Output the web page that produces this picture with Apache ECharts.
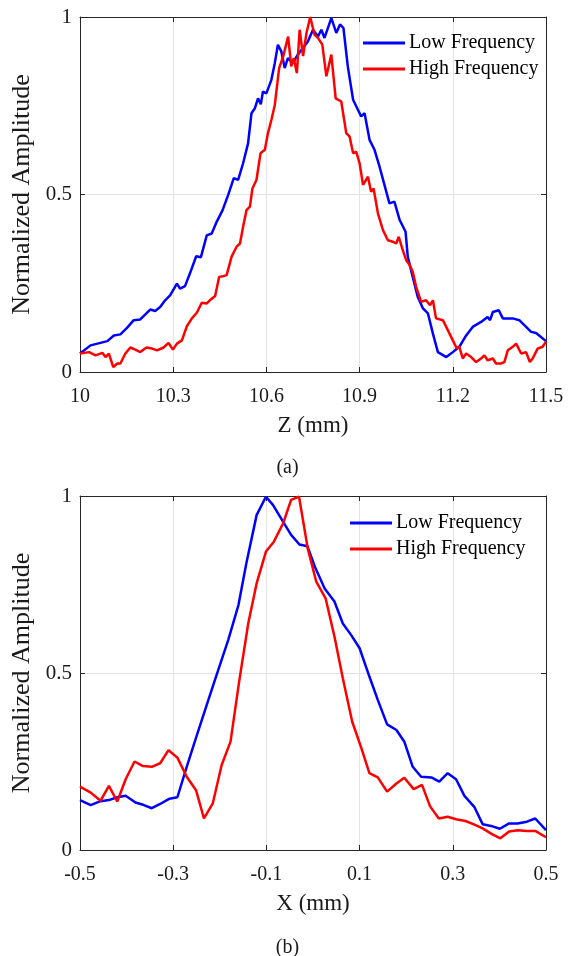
<!DOCTYPE html>
<html>
<head>
<meta charset="utf-8">
<script src="https://cdn.jsdelivr.net/npm/echarts@6/dist/echarts.min.js"></script>
<style>
html,body{margin:0;padding:0;background:#fff;}
#main{width:575px;height:956px;}
</style>
</head>
<body>
<div id="main"></div>
<script>
// ---- Chart (a): axial profile along Z (mm) ----
var zLow = [10.000,10.034,10.088,10.109,10.130,10.152,10.173,10.194,10.226,10.242,10.258,10.274,10.290,10.312,10.322,10.338,10.354,10.374,10.389,10.408,10.424,10.440,10.459,10.477,10.495,10.509,10.525,10.541,10.552,10.563,10.573,10.582,10.589,10.600,10.616,10.627,10.637,10.648,10.659,10.669,10.685,10.701,10.717,10.733,10.750,10.766,10.777,10.787,10.809,10.825,10.837,10.848,10.862,10.879,10.895,10.905,10.916,10.932,10.948,10.964,10.980,10.996,11.012,11.029,11.048,11.055,11.071,11.087,11.104,11.120,11.136,11.152,11.179,11.200,11.221,11.243,11.264,11.291,11.312,11.320,11.329,11.348,11.361,11.393,11.414,11.436,11.452,11.468,11.500];
var aLow = [0.052,0.075,0.087,0.103,0.106,0.125,0.146,0.148,0.176,0.172,0.183,0.202,0.216,0.249,0.235,0.242,0.278,0.326,0.323,0.385,0.390,0.423,0.456,0.499,0.546,0.541,0.588,0.644,0.729,0.743,0.771,0.754,0.790,0.785,0.823,0.870,0.922,0.903,0.856,0.884,0.870,0.894,0.912,0.930,0.964,0.945,0.964,0.941,0.997,0.955,0.979,0.969,0.861,0.767,0.738,0.720,0.729,0.654,0.626,0.579,0.527,0.475,0.480,0.428,0.395,0.325,0.268,0.212,0.179,0.165,0.108,0.056,0.042,0.056,0.071,0.103,0.127,0.141,0.155,0.146,0.169,0.174,0.151,0.151,0.146,0.127,0.113,0.110,0.087];
var zHigh = [10.000,10.029,10.050,10.072,10.082,10.093,10.107,10.120,10.130,10.146,10.162,10.178,10.194,10.214,10.232,10.248,10.269,10.285,10.299,10.312,10.328,10.344,10.360,10.376,10.392,10.408,10.418,10.435,10.448,10.461,10.472,10.488,10.504,10.515,10.525,10.536,10.547,10.555,10.568,10.581,10.595,10.605,10.616,10.627,10.641,10.654,10.670,10.680,10.688,10.698,10.707,10.718,10.729,10.741,10.755,10.766,10.780,10.793,10.809,10.823,10.841,10.857,10.868,10.879,10.889,10.900,10.911,10.927,10.937,10.945,10.959,10.975,10.991,11.007,11.018,11.026,11.039,11.050,11.061,11.071,11.082,11.098,11.114,11.127,11.136,11.146,11.168,11.184,11.200,11.213,11.221,11.232,11.243,11.259,11.275,11.291,11.302,11.312,11.329,11.339,11.355,11.366,11.377,11.393,11.404,11.420,11.436,11.448,11.457,11.473,11.489,11.500];
var aHigh = [0.052,0.056,0.047,0.054,0.042,0.052,0.014,0.024,0.024,0.052,0.069,0.063,0.056,0.069,0.066,0.061,0.069,0.082,0.063,0.080,0.089,0.129,0.151,0.167,0.195,0.193,0.202,0.214,0.268,0.270,0.273,0.325,0.353,0.362,0.409,0.456,0.466,0.517,0.541,0.616,0.626,0.673,0.710,0.752,0.856,0.889,0.945,0.861,0.884,0.842,0.964,0.890,0.955,1.000,0.950,0.941,0.922,0.833,0.894,0.771,0.762,0.673,0.663,0.616,0.621,0.588,0.527,0.550,0.508,0.517,0.447,0.400,0.371,0.367,0.362,0.381,0.343,0.315,0.301,0.282,0.240,0.198,0.202,0.188,0.202,0.151,0.146,0.118,0.089,0.066,0.071,0.038,0.052,0.042,0.028,0.038,0.047,0.033,0.038,0.024,0.024,0.028,0.061,0.071,0.080,0.052,0.056,0.028,0.038,0.066,0.071,0.085];

// ---- Chart (b): lateral profile along X (mm) ----
var xLow = [-0.500,-0.477,-0.456,-0.438,-0.420,-0.402,-0.381,-0.363,-0.346,-0.328,-0.308,-0.291,-0.271,-0.249,-0.228,-0.207,-0.182,-0.160,-0.143,-0.121,-0.101,-0.086,-0.064,-0.047,-0.029,-0.012,0.004,0.025,0.046,0.064,0.082,0.100,0.121,0.139,0.159,0.179,0.196,0.214,0.232,0.254,0.271,0.289,0.307,0.325,0.346,0.364,0.382,0.401,0.421,0.439,0.459,0.477,0.500];
var bLow = [0.141,0.127,0.138,0.141,0.149,0.153,0.134,0.127,0.118,0.130,0.145,0.149,0.235,0.325,0.410,0.494,0.593,0.692,0.810,0.946,0.998,0.975,0.927,0.890,0.863,0.858,0.800,0.739,0.702,0.640,0.607,0.570,0.490,0.424,0.355,0.339,0.306,0.235,0.207,0.205,0.193,0.217,0.200,0.153,0.122,0.073,0.068,0.060,0.075,0.075,0.080,0.089,0.056];
var xHigh = [-0.500,-0.477,-0.456,-0.438,-0.420,-0.402,-0.383,-0.365,-0.346,-0.328,-0.310,-0.291,-0.271,-0.251,-0.234,-0.215,-0.196,-0.177,-0.158,-0.139,-0.121,-0.101,-0.084,-0.064,-0.047,-0.030,-0.011,0.007,0.027,0.046,0.064,0.084,0.104,0.121,0.139,0.159,0.179,0.196,0.216,0.234,0.251,0.270,0.289,0.307,0.327,0.344,0.364,0.384,0.402,0.421,0.439,0.459,0.477,0.500];
var bHigh = [0.179,0.162,0.139,0.181,0.137,0.200,0.250,0.237,0.235,0.245,0.282,0.261,0.207,0.169,0.089,0.132,0.240,0.306,0.480,0.640,0.753,0.843,0.871,0.923,0.989,0.998,0.850,0.758,0.711,0.603,0.485,0.363,0.287,0.217,0.205,0.165,0.188,0.204,0.172,0.184,0.124,0.089,0.094,0.087,0.082,0.073,0.061,0.045,0.033,0.052,0.056,0.054,0.054,0.036];

// tick labels
var zTicks = ['10','10.3','10.6','10.9','11.2','11.5'];
var xTicks = ['-0.5','-0.3','-0.1','0.1','0.3','0.5'];
var yTicks = ['0','0.5','1'];
var seriesNames = ['Low Frequency','High Frequency'];

// axis offsets so that the first tick sits on the axis minimum
var zOff = 10, xOff = -0.5;
function pairs(xs, ys, off){ return xs.map(function(v,i){ return [v - off, ys[i]]; }); }

var FONT = '"Liberation Serif", "DejaVu Serif", serif';
var TXT = '#1a1a1a';
var AX = '#262626';
var GRIDC = '#e3e3e3';

function bottomX(gridIndex, max, interval, ticks, name){
  return {
    type:'value', gridIndex:gridIndex, min:0, max:max, interval:interval, position:'bottom',
    name:name, nameLocation:'middle', nameGap:42,
    nameTextStyle:{fontFamily:FONT, fontSize:23, color:TXT},
    axisLine:{show:true, onZero:false, lineStyle:{color:AX, width:1}},
    axisTick:{show:true, inside:true, length:5, lineStyle:{color:AX}},
    axisLabel:{show:true, margin:15, fontFamily:FONT, fontSize:20, color:TXT,
      formatter:function(v){ var i = Math.round(v/interval); return ticks[i]; }},
    splitLine:{show:true, lineStyle:{color:GRIDC, width:1}}
  };
}
function topX(gridIndex, max, interval){
  return {
    type:'value', gridIndex:gridIndex, min:0, max:max, interval:interval, position:'top',
    axisLine:{show:true, onZero:false, lineStyle:{color:AX, width:1}},
    axisTick:{show:true, inside:true, length:5, lineStyle:{color:AX}},
    axisLabel:{show:false}, splitLine:{show:false}
  };
}
function leftY(gridIndex){
  return {
    type:'value', gridIndex:gridIndex, min:0, max:1, interval:0.5, position:'left',
    name:'Normalized Amplitude', nameLocation:'middle', nameGap:39, nameRotate:90,
    nameTextStyle:{fontFamily:FONT, fontSize:26, color:TXT},
    axisLine:{show:true, onZero:false, lineStyle:{color:AX, width:1}},
    axisTick:{show:true, inside:true, length:5, lineStyle:{color:AX}},
    axisLabel:{show:true, margin:8, fontFamily:FONT, fontSize:21, color:TXT,
      formatter:function(v){ return yTicks[Math.round(v/0.5)]; }},
    splitLine:{show:true, lineStyle:{color:GRIDC, width:1}}
  };
}
function rightY(gridIndex){
  return {
    type:'value', gridIndex:gridIndex, min:0, max:1, interval:0.5, position:'right',
    axisLine:{show:true, onZero:false, lineStyle:{color:AX, width:1}},
    axisTick:{show:true, inside:true, length:5, lineStyle:{color:AX}},
    axisLabel:{show:false}, splitLine:{show:false}
  };
}
function lineSeries(name, color, data, xi, yi){
  return {
    name:name, type:'line', xAxisIndex:xi, yAxisIndex:yi, data:data,
    showSymbol:false, symbol:'none', smooth:false,
    lineStyle:{color:color, width:2.5}, itemStyle:{color:color},
    z:(color==='#ff0000'?3:2), animation:false
  };
}
function legendAt(left, top){
  return {
    orient:'vertical', left:left, top:top, icon:'rect', itemWidth:42, itemHeight:3,
    itemGap:6, padding:0,
    textStyle:{fontFamily:FONT, fontSize:20, color:'#000', lineHeight:20, padding:[0,0,0,-1]},
    data:seriesNames, selectedMode:false
  };
}

var chart = echarts.init(document.getElementById('main'), null, {renderer:'canvas'});
chart.setOption({
  backgroundColor:'#fff',
  animation:false,
  title:[
    {text:'(a)', left:'center', top:453, textStyle:{fontFamily:FONT, fontSize:20, fontWeight:'normal', color:TXT}},
    {text:'(b)', left:'center', top:933, textStyle:{fontFamily:FONT, fontSize:20, fontWeight:'normal', color:TXT}}
  ],
  grid:[
    {left:80, top:17, width:466, height:355},
    {left:80, top:496, width:466, height:354}
  ],
  legend:[legendAt(363, 33), legendAt(350, 513)],
  xAxis:[
    bottomX(0, 1.5, 0.3, zTicks, 'Z (mm)'), topX(0, 1.5, 0.3),
    bottomX(1, 1.0, 0.2, xTicks, 'X (mm)'), topX(1, 1.0, 0.2)
  ],
  yAxis:[leftY(0), rightY(0), leftY(1), rightY(1)],
  series:[
    lineSeries(seriesNames[0], '#0000ff', pairs(zLow, aLow, zOff), 0, 0),
    lineSeries(seriesNames[1], '#ff0000', pairs(zHigh, aHigh, zOff), 0, 0),
    lineSeries(seriesNames[0], '#0000ff', pairs(xLow, bLow, xOff), 2, 2),
    lineSeries(seriesNames[1], '#ff0000', pairs(xHigh, bHigh, xOff), 2, 2)
  ]
});
</script>
</body>
</html>
